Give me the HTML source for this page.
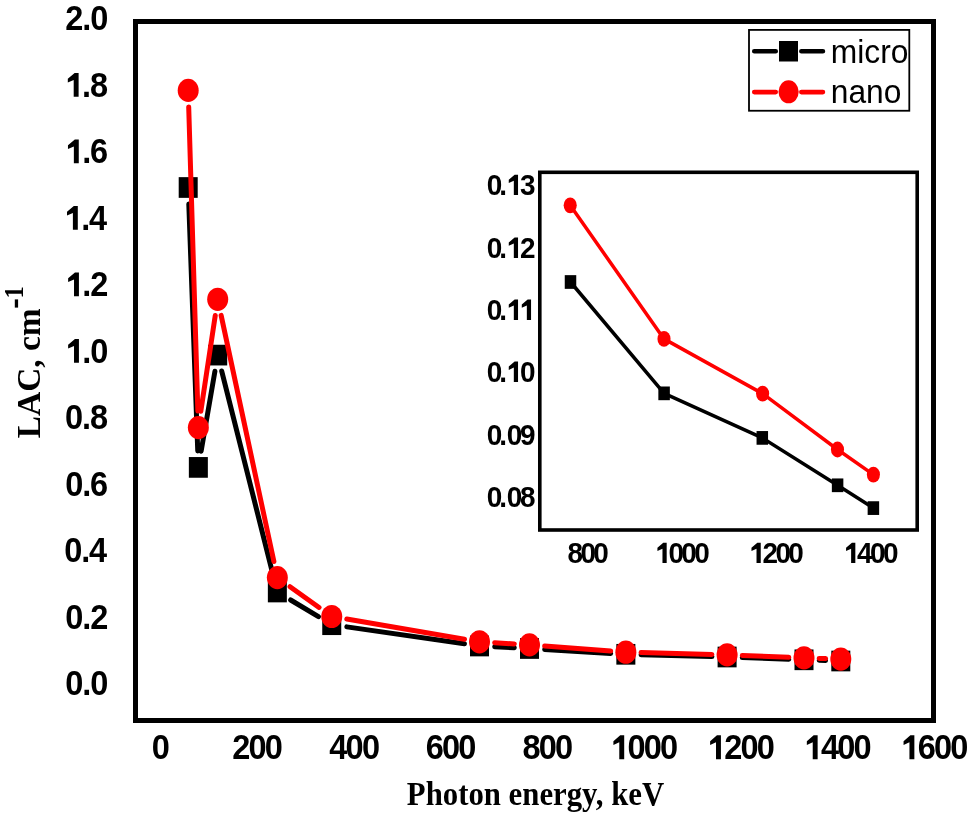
<!DOCTYPE html>
<html><head><meta charset="utf-8"><style>
html,body{margin:0;padding:0;background:#fff;}
body{width:969px;height:816px;overflow:hidden;}
svg{display:block;will-change:transform;}
</style></head><body>
<svg width="969" height="816" viewBox="0 0 969 816"><rect width="969" height="816" fill="#fff"/><path d="M188.80 203.99L197.75 450.91M201.14 451.18L214.91 371.32M221.71 371.02L273.34 576.08M290.65 599.99L318.45 616.71M346.82 626.87L464.43 643.83M494.68 646.76L514.32 647.74M544.68 649.41L610.67 653.39M641.05 654.71L711.90 656.59M742.29 657.55L788.81 659.25M819.19 660.30L825.61 660.50" stroke="#000" stroke-width="5" stroke-linecap="round" fill="none"/><rect x="178.70" y="177.15" width="19" height="20.7" fill="#000"/><rect x="188.85" y="457.05" width="19" height="20.7" fill="#000"/><rect x="208.20" y="344.75" width="19" height="20.7" fill="#000"/><rect x="267.85" y="581.65" width="19" height="20.7" fill="#000"/><rect x="322.25" y="614.35" width="19" height="20.7" fill="#000"/><rect x="470.00" y="635.65" width="19" height="20.7" fill="#000"/><rect x="520.00" y="638.15" width="19" height="20.7" fill="#000"/><rect x="616.35" y="643.95" width="19" height="20.7" fill="#000"/><rect x="717.60" y="646.65" width="19" height="20.7" fill="#000"/><rect x="794.50" y="649.45" width="19" height="20.7" fill="#000"/><rect x="831.30" y="650.65" width="19" height="20.7" fill="#000"/><path d="M188.70 106.89L197.85 411.11M200.81 411.32L215.24 315.58M221.14 315.37L273.91 561.53M290.04 586.68L319.06 607.42M346.76 619.07L464.49 639.23M494.68 642.74L514.32 643.96M544.66 646.05L610.69 651.05M641.05 652.61L711.90 654.49M742.29 655.49L788.81 657.31M819.19 658.40L825.61 658.60" stroke="#f00" stroke-width="5" stroke-linecap="round" fill="none"/><ellipse cx="188.20" cy="90.40" rx="10.5" ry="11.6" fill="#f00"/><ellipse cx="198.35" cy="427.60" rx="10.5" ry="11.6" fill="#f00"/><ellipse cx="217.70" cy="299.30" rx="10.5" ry="11.6" fill="#f00"/><ellipse cx="277.35" cy="577.60" rx="10.5" ry="11.6" fill="#f00"/><ellipse cx="331.75" cy="616.50" rx="10.5" ry="11.6" fill="#f00"/><ellipse cx="479.50" cy="641.80" rx="10.5" ry="11.6" fill="#f00"/><ellipse cx="529.50" cy="644.90" rx="10.5" ry="11.6" fill="#f00"/><ellipse cx="625.85" cy="652.20" rx="10.5" ry="11.6" fill="#f00"/><ellipse cx="727.10" cy="654.90" rx="10.5" ry="11.6" fill="#f00"/><ellipse cx="804.00" cy="657.90" rx="10.5" ry="11.6" fill="#f00"/><ellipse cx="840.80" cy="659.10" rx="10.5" ry="11.6" fill="#f00"/><rect x="135.5" y="21.5" width="798" height="699" fill="none" stroke="#000" stroke-width="5"/><rect x="539.8" y="172.3" width="377.40" height="357.70" fill="#fff" stroke="#000" stroke-width="3.6"/><path d="M570.50 282.00L664.10 393.35L762.30 437.90L837.60 485.30L873.40 508.10" stroke="#000" stroke-width="3.5" stroke-linejoin="round" stroke-linecap="round" fill="none"/><rect x="564.75" y="275.15" width="11.5" height="13.7" fill="#000"/><rect x="658.35" y="386.50" width="11.5" height="13.7" fill="#000"/><rect x="756.55" y="431.05" width="11.5" height="13.7" fill="#000"/><rect x="831.85" y="478.45" width="11.5" height="13.7" fill="#000"/><rect x="867.65" y="501.25" width="11.5" height="13.7" fill="#000"/><path d="M570.20 205.30L664.00 338.90L762.60 393.60L837.50 449.50L873.40 474.60" stroke="#f00" stroke-width="3.5" stroke-linejoin="round" stroke-linecap="round" fill="none"/><ellipse cx="570.20" cy="205.30" rx="6.55" ry="7.9" fill="#f00"/><ellipse cx="664.00" cy="338.90" rx="6.55" ry="7.9" fill="#f00"/><ellipse cx="762.60" cy="393.60" rx="6.55" ry="7.9" fill="#f00"/><ellipse cx="837.50" cy="449.50" rx="6.55" ry="7.9" fill="#f00"/><ellipse cx="873.40" cy="474.60" rx="6.55" ry="7.9" fill="#f00"/><rect x="749" y="29.9" width="160.3" height="80.85" fill="none" stroke="#000" stroke-width="1.8"/><path d="M754.3 51.25L775.7 51.25M801.4 51.25L822.9 51.25" stroke="#000" stroke-width="4.7" stroke-linecap="round"/><rect x="779" y="41" width="19" height="20.5" fill="#000"/><path d="M754.3 92.05L775.7 92.05M801.4 92.05L822.9 92.05" stroke="#f00" stroke-width="4.7" stroke-linecap="round"/><ellipse cx="788.6" cy="91.8" rx="10.1" ry="11.5" fill="#f00"/><text transform="translate(0,695.18) scale(0.94,1)" x="69.49 87.57 96.01" y="0" font-family="'Liberation Sans', sans-serif" font-weight="bold" font-size="34.6" fill="#000">0.0</text><text transform="translate(0,628.68) scale(0.94,1)" x="69.49 87.57 96.01" y="0" font-family="'Liberation Sans', sans-serif" font-weight="bold" font-size="34.6" fill="#000">0.2</text><text transform="translate(0,562.18) scale(0.94,1)" x="68.28 86.36 94.80" y="0" font-family="'Liberation Sans', sans-serif" font-weight="bold" font-size="34.6" fill="#000">0.4</text><text transform="translate(0,495.68) scale(0.94,1)" x="69.32 87.39 95.84" y="0" font-family="'Liberation Sans', sans-serif" font-weight="bold" font-size="34.6" fill="#000">0.6</text><text transform="translate(0,429.18) scale(0.94,1)" x="69.15 87.22 95.66" y="0" font-family="'Liberation Sans', sans-serif" font-weight="bold" font-size="34.6" fill="#000">0.8</text><text transform="translate(0,362.68) scale(0.94,1)" x="87.57 96.01" y="0" font-family="'Liberation Sans', sans-serif" font-weight="bold" font-size="34.6" fill="#000">.0</text><path transform="translate(65.92,362.68) scale(32.524,34.600)" d="M0.249,0L0.4,0L0.4,-0.688L0.278,-0.688L0.068,-0.52L0.068,-0.4075L0.249,-0.4855Z" fill="#000"/><text transform="translate(0,296.18) scale(0.94,1)" x="87.57 96.01" y="0" font-family="'Liberation Sans', sans-serif" font-weight="bold" font-size="34.6" fill="#000">.2</text><path transform="translate(65.92,296.18) scale(32.524,34.600)" d="M0.249,0L0.4,0L0.4,-0.688L0.278,-0.688L0.068,-0.52L0.068,-0.4075L0.249,-0.4855Z" fill="#000"/><text transform="translate(0,229.68) scale(0.94,1)" x="86.36 94.80" y="0" font-family="'Liberation Sans', sans-serif" font-weight="bold" font-size="34.6" fill="#000">.4</text><path transform="translate(64.79,229.68) scale(32.524,34.600)" d="M0.249,0L0.4,0L0.4,-0.688L0.278,-0.688L0.068,-0.52L0.068,-0.4075L0.249,-0.4855Z" fill="#000"/><text transform="translate(0,163.18) scale(0.94,1)" x="87.39 95.84" y="0" font-family="'Liberation Sans', sans-serif" font-weight="bold" font-size="34.6" fill="#000">.6</text><path transform="translate(65.76,163.18) scale(32.524,34.600)" d="M0.249,0L0.4,0L0.4,-0.688L0.278,-0.688L0.068,-0.52L0.068,-0.4075L0.249,-0.4855Z" fill="#000"/><text transform="translate(0,96.68) scale(0.94,1)" x="87.22 95.66" y="0" font-family="'Liberation Sans', sans-serif" font-weight="bold" font-size="34.6" fill="#000">.8</text><path transform="translate(65.60,96.68) scale(32.524,34.600)" d="M0.249,0L0.4,0L0.4,-0.688L0.278,-0.688L0.068,-0.52L0.068,-0.4075L0.249,-0.4855Z" fill="#000"/><text transform="translate(0,30.18) scale(0.94,1)" x="69.49 87.57 96.01" y="0" font-family="'Liberation Sans', sans-serif" font-weight="bold" font-size="34.6" fill="#000">2.0</text><text transform="translate(0,759.13) scale(0.94,1)" x="161.46" y="0" font-family="'Liberation Sans', sans-serif" font-weight="bold" font-size="34.6" fill="#000">0</text><text transform="translate(0,759.13) scale(0.94,1)" x="247.11 264.44 281.77" y="0" font-family="'Liberation Sans', sans-serif" font-weight="bold" font-size="34.6" fill="#000">200</text><text transform="translate(0,759.13) scale(0.94,1)" x="350.35 367.68 385.01" y="0" font-family="'Liberation Sans', sans-serif" font-weight="bold" font-size="34.6" fill="#000">400</text><text transform="translate(0,759.13) scale(0.94,1)" x="452.86 470.19 487.52" y="0" font-family="'Liberation Sans', sans-serif" font-weight="bold" font-size="34.6" fill="#000">600</text><text transform="translate(0,759.13) scale(0.94,1)" x="555.84 573.17 590.50" y="0" font-family="'Liberation Sans', sans-serif" font-weight="bold" font-size="34.6" fill="#000">800</text><text transform="translate(0,759.13) scale(0.94,1)" x="667.53 684.86 702.18" y="0" font-family="'Liberation Sans', sans-serif" font-weight="bold" font-size="34.6" fill="#000">000</text><path transform="translate(611.19,759.13) scale(32.524,34.600)" d="M0.249,0L0.4,0L0.4,-0.688L0.278,-0.688L0.068,-0.52L0.068,-0.4075L0.249,-0.4855Z" fill="#000"/><text transform="translate(0,759.13) scale(0.94,1)" x="770.42 787.75 805.08" y="0" font-family="'Liberation Sans', sans-serif" font-weight="bold" font-size="34.6" fill="#000">200</text><path transform="translate(707.91,759.13) scale(32.524,34.600)" d="M0.249,0L0.4,0L0.4,-0.688L0.278,-0.688L0.068,-0.52L0.068,-0.4075L0.249,-0.4855Z" fill="#000"/><text transform="translate(0,759.13) scale(0.94,1)" x="873.31 890.64 907.97" y="0" font-family="'Liberation Sans', sans-serif" font-weight="bold" font-size="34.6" fill="#000">400</text><path transform="translate(804.63,759.13) scale(32.524,34.600)" d="M0.249,0L0.4,0L0.4,-0.688L0.278,-0.688L0.068,-0.52L0.068,-0.4075L0.249,-0.4855Z" fill="#000"/><text transform="translate(0,759.13) scale(0.94,1)" x="976.21 993.54 1010.86" y="0" font-family="'Liberation Sans', sans-serif" font-weight="bold" font-size="34.6" fill="#000">600</text><path transform="translate(901.35,759.13) scale(32.524,34.600)" d="M0.249,0L0.4,0L0.4,-0.688L0.278,-0.688L0.068,-0.52L0.068,-0.4075L0.249,-0.4855Z" fill="#000"/><text transform="translate(0,195.12) scale(0.94,1)" x="517.85 531.18 553.08" y="0" font-family="'Liberation Sans', sans-serif" font-weight="bold" font-size="29.7" fill="#000">0.3</text><path transform="translate(506.87,195.12) scale(27.918,29.700)" d="M0.249,0L0.4,0L0.4,-0.688L0.278,-0.688L0.068,-0.52L0.068,-0.4075L0.249,-0.4855Z" fill="#000"/><text transform="translate(0,257.92) scale(0.94,1)" x="517.85 531.18 553.08" y="0" font-family="'Liberation Sans', sans-serif" font-weight="bold" font-size="29.7" fill="#000">0.2</text><path transform="translate(506.87,257.92) scale(27.918,29.700)" d="M0.249,0L0.4,0L0.4,-0.688L0.278,-0.688L0.068,-0.52L0.068,-0.4075L0.249,-0.4855Z" fill="#000"/><text transform="translate(0,319.92) scale(0.94,1)" x="517.85 531.18" y="0" font-family="'Liberation Sans', sans-serif" font-weight="bold" font-size="29.7" fill="#000">0.</text><path transform="translate(506.87,319.92) scale(27.918,29.700)" d="M0.249,0L0.4,0L0.4,-0.688L0.278,-0.688L0.068,-0.52L0.068,-0.4075L0.249,-0.4855Z" fill="#000"/><path transform="translate(519.89,319.92) scale(27.918,29.700)" d="M0.249,0L0.4,0L0.4,-0.688L0.278,-0.688L0.068,-0.52L0.068,-0.4075L0.249,-0.4855Z" fill="#000"/><text transform="translate(0,382.02) scale(0.94,1)" x="517.85 531.18 553.08" y="0" font-family="'Liberation Sans', sans-serif" font-weight="bold" font-size="29.7" fill="#000">0.0</text><path transform="translate(506.87,382.02) scale(27.918,29.700)" d="M0.249,0L0.4,0L0.4,-0.688L0.278,-0.688L0.068,-0.52L0.068,-0.4075L0.249,-0.4855Z" fill="#000"/><text transform="translate(0,444.52) scale(0.94,1)" x="517.85 531.18 539.22 553.08" y="0" font-family="'Liberation Sans', sans-serif" font-weight="bold" font-size="29.7" fill="#000">0.09</text><text transform="translate(0,506.72) scale(0.94,1)" x="517.85 531.18 539.22 553.08" y="0" font-family="'Liberation Sans', sans-serif" font-weight="bold" font-size="29.7" fill="#000">0.08</text><text transform="translate(0,563.12) scale(0.94,1)" x="603.70 617.45 631.21" y="0" font-family="'Liberation Sans', sans-serif" font-weight="bold" font-size="29.7" fill="#000">800</text><text transform="translate(0,563.12) scale(0.94,1)" x="711.12 724.87 738.62" y="0" font-family="'Liberation Sans', sans-serif" font-weight="bold" font-size="29.7" fill="#000">000</text><path transform="translate(655.52,563.12) scale(27.918,29.700)" d="M0.249,0L0.4,0L0.4,-0.688L0.278,-0.688L0.068,-0.52L0.068,-0.4075L0.249,-0.4855Z" fill="#000"/><text transform="translate(0,563.12) scale(0.94,1)" x="811.17 824.92 838.67" y="0" font-family="'Liberation Sans', sans-serif" font-weight="bold" font-size="29.7" fill="#000">200</text><path transform="translate(749.57,563.12) scale(27.918,29.700)" d="M0.249,0L0.4,0L0.4,-0.688L0.278,-0.688L0.068,-0.52L0.068,-0.4075L0.249,-0.4855Z" fill="#000"/><text transform="translate(0,563.12) scale(0.94,1)" x="911.81 925.56 939.31" y="0" font-family="'Liberation Sans', sans-serif" font-weight="bold" font-size="29.7" fill="#000">400</text><path transform="translate(844.17,563.12) scale(27.918,29.700)" d="M0.249,0L0.4,0L0.4,-0.688L0.278,-0.688L0.068,-0.52L0.068,-0.4075L0.249,-0.4855Z" fill="#000"/><text transform="translate(830.75,62.97) scale(0.9664,1)" font-family='"Liberation Sans", sans-serif' font-weight="normal" font-size="32.93" letter-spacing="0.000" fill="#000">micro</text><text transform="translate(830.76,102.67) scale(0.9704,1)" font-family='"Liberation Sans", sans-serif' font-weight="normal" font-size="32.69" letter-spacing="0.000" fill="#000">nano</text><text transform="translate(406.86,804.75) scale(0.9057,1)" font-family='"Liberation Serif", serif' font-weight="bold" font-size="34.00" letter-spacing="0.000" fill="#000">Photon energy, keV</text><text transform="translate(39.9,438.18) rotate(-90) scale(1,1.04)" font-family='"Liberation Serif", serif' font-weight="bold" font-size="33.4">LAC, cm</text><rect x="14.8" y="299.4" width="3.3" height="8.2" fill="#000"/><text transform="translate(23.0,298.48) rotate(-90) scale(1,1.14)" font-family='"Liberation Serif", serif' font-weight="bold" font-size="24.8">1</text></svg>
</body></html>
